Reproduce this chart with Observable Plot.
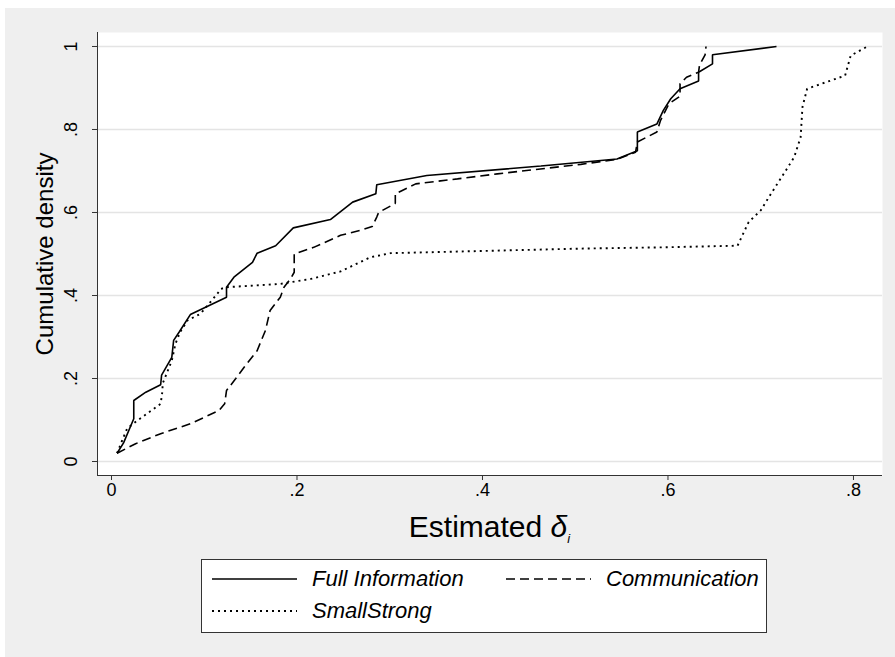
<!DOCTYPE html>
<html>
<head>
<meta charset="utf-8">
<script src="https://cdn.jsdelivr.net/npm/d3@7"></script>
<script src="https://cdn.jsdelivr.net/npm/@observablehq/plot@0.6"></script>
<style>
  html, body { margin: 0; padding: 0; background: #ffffff; }
  body { width: 895px; height: 657px; overflow: hidden; font-family: "Liberation Sans", Arial, sans-serif; }
  #fig { position: absolute; left: 5px; top: 8px; width: 890px; height: 649px; background: #efefef; }
  #chart { position: absolute; left: 0; top: 0; }
  #xtitle { position: absolute; left: 92px; width: 785px; top: 504px; text-align: center;
            font-size: 30px; line-height: 1; color: #000; white-space: nowrap; }
  #xtitle sub { font-size: 13px; vertical-align: -6px; }
  #legend { position: absolute; left: 196px; top: 551px; width: 564px; height: 72px;
            background: #fff; border: 1px solid #333; }
  .lk { position: absolute; }
  .lt { position: absolute; font-size: 22px; line-height: 1; font-style: italic; white-space: nowrap; color: #000; }
</style>
</head>
<body>
<div id="fig">
  <div id="chart"></div>
  <div id="xtitle">Estimated <i>δ</i><sub><i>i</i></sub></div>
  <div id="legend"></div>
</div>
<script>
// ---- data ----
const seriesNames = ["Full Information", "Communication", "SmallStrong"];

const fullX = [0.006, 0.013, 0.024, 0.024, 0.037, 0.053, 0.054, 0.065, 0.067, 0.073, 0.085, 0.124, 0.124, 0.132, 0.152, 0.157, 0.177, 0.196, 0.236, 0.260, 0.285, 0.286, 0.340, 0.463, 0.545, 0.567, 0.567, 0.588, 0.595, 0.603, 0.613, 0.633, 0.633, 0.648, 0.648, 0.717];
const fullY = [0.020, 0.045, 0.103, 0.147, 0.167, 0.185, 0.208, 0.251, 0.292, 0.312, 0.354, 0.396, 0.420, 0.444, 0.480, 0.502, 0.520, 0.563, 0.583, 0.625, 0.645, 0.667, 0.689, 0.712, 0.729, 0.749, 0.794, 0.813, 0.846, 0.874, 0.898, 0.917, 0.938, 0.958, 0.980, 1.000];

const commX = [0.006, 0.026, 0.053, 0.085, 0.116, 0.122, 0.124, 0.134, 0.143, 0.157, 0.166, 0.171, 0.182, 0.186, 0.193, 0.197, 0.197, 0.218, 0.247, 0.270, 0.281, 0.286, 0.288, 0.306, 0.306, 0.328, 0.373, 0.416, 0.506, 0.545, 0.565, 0.567, 0.588, 0.592, 0.601, 0.613, 0.613, 0.620, 0.633, 0.634, 0.640, 0.641];
const commY = [0.020, 0.043, 0.067, 0.091, 0.123, 0.139, 0.171, 0.200, 0.227, 0.267, 0.316, 0.364, 0.396, 0.420, 0.440, 0.456, 0.500, 0.516, 0.545, 0.558, 0.566, 0.589, 0.600, 0.622, 0.645, 0.669, 0.681, 0.693, 0.716, 0.728, 0.745, 0.770, 0.794, 0.822, 0.862, 0.880, 0.910, 0.926, 0.938, 0.955, 0.980, 1.000];

const smallX = [0.006, 0.013, 0.017, 0.028, 0.038, 0.053, 0.055, 0.055, 0.065, 0.069, 0.074, 0.082, 0.096, 0.114, 0.118, 0.124, 0.182, 0.215, 0.247, 0.279, 0.301, 0.506, 0.592, 0.675, 0.687, 0.700, 0.711, 0.727, 0.736, 0.743, 0.745, 0.750, 0.791, 0.797, 0.815];
const smallY = [0.020, 0.059, 0.080, 0.099, 0.115, 0.139, 0.171, 0.187, 0.243, 0.284, 0.312, 0.340, 0.356, 0.404, 0.416, 0.420, 0.428, 0.440, 0.458, 0.492, 0.502, 0.513, 0.516, 0.520, 0.577, 0.605, 0.645, 0.701, 0.733, 0.781, 0.854, 0.898, 0.930, 0.978, 1.000];

const xTicks = [0, 0.2, 0.4, 0.6, 0.8];
const yTicks = [0, 0.2, 0.4, 0.6, 0.8, 1];
const yTitle = "Cumulative density";

// ---- build table ----
const rows = [];
[[fullX, fullY], [commX, commY], [smallX, smallY]].forEach(([xs, ys], i) => {
  xs.forEach((x, j) => rows.push({series: seriesNames[i], x, y: ys[j], order: j}));
});

const styles = {
  "Full Information": {strokeDasharray: null, strokeWidth: 1.6},
  "Communication": {strokeDasharray: "9,5", strokeWidth: 1.6},
  "SmallStrong": {strokeDasharray: "2,4", strokeWidth: 1.9}
};

const fmt = d => d === 0 ? "0" : d === 1 ? "1" : String(+d.toFixed(1)).replace(/^0/, "");

const xMin = -0.0151, xMax = 0.8313, yMin = -0.0337, yMax = 1.0337;

const chart = Plot.plot({
  width: 890,
  height: 497,
  marginLeft: 92,
  marginRight: 13,
  marginTop: 24,
  marginBottom: 30,
  style: {background: "transparent", fontFamily: "'Liberation Sans', Arial, sans-serif", color: "#222", overflow: "visible"},
  x: {domain: [xMin, xMax]},
  y: {domain: [yMin, yMax]},
  marks: [
    Plot.frame({fill: "#ffffff", stroke: null}),
    Plot.gridY(yTicks, {stroke: "#e4e4e4", strokeOpacity: 1, strokeWidth: 1.5}),
    ...seriesNames.map(name => Plot.line(rows.filter(d => d.series === name), {
      x: "x", y: "y", stroke: "#000", strokeLinejoin: "miter", strokeLinecap: "butt",
      strokeWidth: styles[name].strokeWidth,
      strokeDasharray: styles[name].strokeDasharray
    })),
    Plot.ruleX([xMin], {stroke: "#333", strokeWidth: 1}),
    Plot.ruleY([yMin], {stroke: "#333", strokeWidth: 1}),
    Plot.axisX({ticks: xTicks, tickFormat: fmt, tickSize: 5, tickPadding: 3, fontSize: 18, label: null, stroke: "#333", fill: "#000"}),
    Plot.axisY({ticks: yTicks, tickFormat: () => "", tickSize: 5, label: null, stroke: "#333"}),
    Plot.text(yTicks, {y: d => d, text: fmt, frameAnchor: "left", rotate: -90, dx: -21,
                       textAnchor: "middle", lineAnchor: "bottom", fontSize: 18, fill: "#000"}),
    Plot.text([yTitle], {frameAnchor: "left", rotate: -90, dx: -52, fontSize: 24, fill: "#000",
                         textAnchor: "middle", lineAnchor: "middle"})
  ]
});
document.getElementById("chart").appendChild(chart);

// ---- legend (keys drawn with the same styles as the lines) ----
const legend = d3.select("#legend");
const legendItems = [
  {name: seriesNames[0], keyLeft: 10, textLeft: 110, cy: 19},
  {name: seriesNames[1], keyLeft: 304, textLeft: 404, cy: 19},
  {name: seriesNames[2], keyLeft: 10, textLeft: 110, cy: 51}
];
legendItems.forEach(it => {
  const svg = legend.append("svg").attr("class", "lk")
    .attr("width", 86).attr("height", 10)
    .style("left", it.keyLeft + "px").style("top", (it.cy - 5) + "px");
  svg.append("line").attr("x1", 0).attr("x2", 85).attr("y1", 5).attr("y2", 5)
    .attr("stroke", "#000").attr("stroke-width", styles[it.name].strokeWidth)
    .attr("stroke-dasharray", styles[it.name].strokeDasharray);
  legend.append("div").attr("class", "lt").text(it.name)
    .style("left", it.textLeft + "px").style("top", (it.cy - 11) + "px");
});
</script>
</body>
</html>
